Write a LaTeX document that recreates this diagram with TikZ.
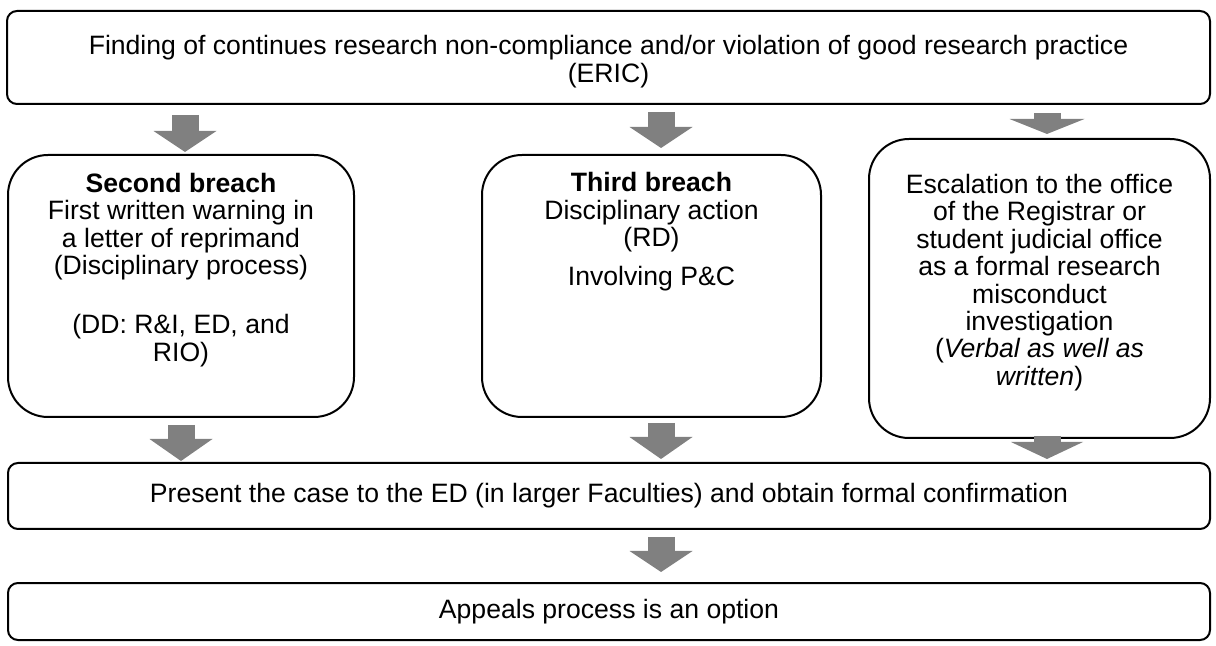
\documentclass[tikz,border=0pt]{standalone}
\usepackage{fontspec}
\setmainfont{Liberation Sans}
\usepackage{tikz}
\usetikzlibrary{arrows.meta}

\definecolor{arrowgray}{RGB}{128,128,128}

\tikzset{
    flowbox/.style={draw, line width=1pt, rounded corners=5pt, inner sep=0pt, align=center},
    breachbox/.style={flowbox, rounded corners=20pt},
    boxtext/.style={align=center, inner sep=0pt},
    blockarrow/.style 2 args={color=arrowgray, line width=13.5pt,
        arrows={-Triangle[width=#1, length=#2, line width=0pt]}}
}

\begin{document}
\begin{tikzpicture}[x=0.5pt, y=-0.5pt, font=\fontsize{13.3pt}{13.7pt}\selectfont]
    \useasboundingbox (0,0) rectangle (1216,646);

    \node[flowbox, minimum width=601.5pt, minimum height=46.5pt] (find) at (608.5, 57.5) {};
    \node[boxtext] (findtxt) at ([yshift=-2pt]find.center)
        {Finding of continues research non-compliance and/or violation of good research practice\\(ERIC)};

    \node[breachbox, minimum width=173pt, minimum height=131pt] (second) at (181, 286) {};
    \node[boxtext] (secondtxt) at ([yshift=8pt]second.center)
        {\textbf{Second breach}\\First written warning in\\a letter of reprimand\\(Disciplinary process)\\[16pt](DD: R\&I, ED, and\\RIO)};

    \node[breachbox, minimum width=169.5pt, minimum height=131pt] (third) at (651.5, 286) {};
    \node[boxtext] (thirdtxt) at ([yshift=27pt]third.center)
        {\textbf{Third breach}\\Disciplinary action\\(RD)\\[6pt]Involving P\&C};

    \node[breachbox, minimum width=170.5pt, minimum height=149.5pt] (escal) at (1039.5, 288.5) {};
    \node[boxtext] (escaltxt) at ([yshift=3pt]escal.center)
        {Escalation to the office\\of the Registrar or\\student judicial office\\as a formal research\\misconduct\\investigation\\(\textit{Verbal as well as}\\\textit{written})};

    \node[flowbox, minimum width=601pt, minimum height=33pt] (present) at (609, 496)
        {Present the case to the ED (in larger Faculties) and obtain formal confirmation};

    \node[flowbox, minimum width=601pt, minimum height=28.5pt] (appeal) at (609, 611.5)
        {Appeals process is an option};

    \draw[blockarrow={31.5pt}{10.5pt}] ([xshift=2pt, yshift=-5pt]find.south -| second.north) -- ([xshift=2pt, yshift=1pt]second.north);
    \draw[blockarrow={31.5pt}{10.5pt}] ([xshift=4.75pt, yshift=-3.5pt]find.south -| third.north) -- ([xshift=4.75pt, yshift=3pt]third.north);
    \draw[blockarrow={37.5pt}{7.5pt}] ([xshift=3.75pt, yshift=-4pt]find.south -| escal.north) -- ([xshift=3.75pt, yshift=2pt]escal.north);
    \draw[blockarrow={31.5pt}{11pt}] ([yshift=-3.5pt]second.south) -- ([yshift=0.5pt]present.north -| second.south);
    \draw[blockarrow={31.5pt}{11pt}] ([xshift=4.75pt, yshift=-2.5pt]third.south) -- ([xshift=4.75pt, yshift=1.5pt]present.north -| third.south);
    \draw[blockarrow={36pt}{8.5pt}] ([xshift=3.75pt, yshift=1.5pt]escal.south) -- ([xshift=3.75pt, yshift=1.5pt]present.north -| escal.south);
    \draw[blockarrow={31.5pt}{10.5pt}] ([xshift=26pt, yshift=-3.5pt]present.south) -- ([xshift=26pt, yshift=5pt]appeal.north);
\end{tikzpicture}
\end{document}
